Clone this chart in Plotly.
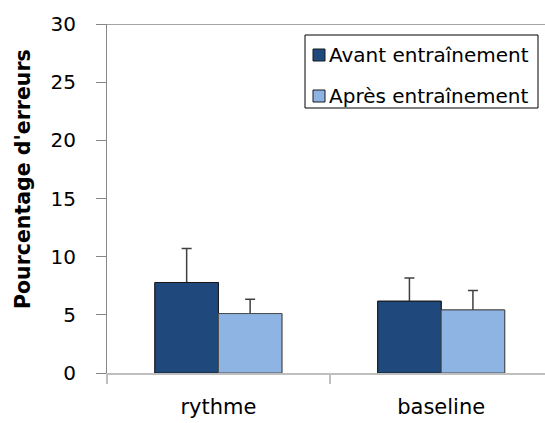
import plotly.graph_objects as go

categories = ["rythme", "baseline"]
series_names = ["Avant entraînement", "Après entraînement"]
avant = [7.78, 6.17]
avant_err = [2.92, 2.00]
apres = [5.11, 5.42]
apres_err = [1.23, 1.67]
colors = ["#1F497D", "#8DB4E2"]
outline = ["#1a1a1a", "#4d4d4d"]

W, H = 545, 423
L, R, T, B = 107, 0, 24, 50
PW, PH = W - L - R, H - T - B
FONT = "DejaVu Sans"
BW = 0.285  # bar width in category units

def px(x):
    return (x - L) / PW

def py(y):
    return (H - B - y) / PH

xpos = list(range(len(categories)))
series = [
    (series_names[0], avant, avant_err, colors[0], outline[0], -BW),
    (series_names[1], apres, apres_err, colors[1], outline[1], 0.0),
]

fig = go.Figure()
# first pass: bars with error bars
for name, vals, errs, c, oc, off in series:
    fig.add_trace(go.Bar(
        x=xpos, y=vals, name=name, width=BW, offset=off,
        marker=dict(color=c, line=dict(color=oc, width=1)),
        error_y=dict(type="data", array=errs, color="#404040", thickness=1.5, width=5),
        showlegend=False, hoverinfo="skip",
    ))
# second pass: same bars on top, hiding the lower half of the error bars
for name, vals, errs, c, oc, off in series:
    fig.add_trace(go.Bar(
        x=xpos, y=vals, name=name, width=BW, offset=off,
        marker=dict(color=c, line=dict(color=oc, width=1)),
        showlegend=False,
    ))

fig.update_layout(
    width=W, height=H,
    margin=dict(l=L, r=R, t=T, b=B),
    paper_bgcolor="white", plot_bgcolor="white",
    barmode="overlay",
    font=dict(family=FONT, color="black", size=20),
    xaxis=dict(
        range=[-0.5, 1.466], tickvals=xpos, ticktext=categories,
        showline=True, linecolor="#BFBFBF", linewidth=1.5,
        ticks="", showgrid=False, zeroline=False,
        tickfont=dict(size=21), ticklabelstandoff=14,
        minor=dict(tickvals=[-0.5, 0.5], ticks="outside", ticklen=9, tickcolor="#BFBFBF", tickwidth=1.5),
    ),
    yaxis=dict(
        range=[0, 30], tickvals=[0, 5, 10, 15, 20, 25, 30],
        showline=True, linecolor="#868686", linewidth=1,
        ticks="outside", ticklen=10, tickcolor="#868686", tickwidth=1,
        showgrid=False, zeroline=False,
        tickfont=dict(size=20), ticklabelstandoff=16,
    ),
)

# top line at 30
fig.add_shape(type="line", xref="paper", yref="y", x0=0, x1=1, y0=30, y1=30,
              line=dict(color="#868686", width=1.5))

# y title
fig.add_annotation(text="<b>Pourcentage d'erreurs</b>", textangle=-90,
                   xref="paper", yref="paper", x=px(9), y=py(179),
                   showarrow=False, font=dict(size=20.5, family=FONT))

# legend box
fig.add_shape(type="rect", xref="paper", yref="paper",
              x0=px(305), x1=px(538), y0=py(35), y1=py(108),
              line=dict(color="black", width=1), fillcolor="white")
for i, (name, c, oc) in enumerate(zip(series_names, colors, outline)):
    ytop = 49 + i * 41
    fig.add_shape(type="rect", xref="paper", yref="paper",
                  x0=px(313), x1=px(325), y0=py(ytop), y1=py(ytop + 12),
                  line=dict(color="#1a1a1a", width=1), fillcolor=c)
    fig.add_annotation(text=name, xref="paper", yref="paper",
                       x=px(327), y=py(ytop + 6), xanchor="left", yanchor="middle",
                       showarrow=False, font=dict(size=20, family=FONT))

fig.write_html("out.html", config={"displayModeBar": False},
               post_script="document.body.style.margin='0';document.body.style.overflow='hidden';")
